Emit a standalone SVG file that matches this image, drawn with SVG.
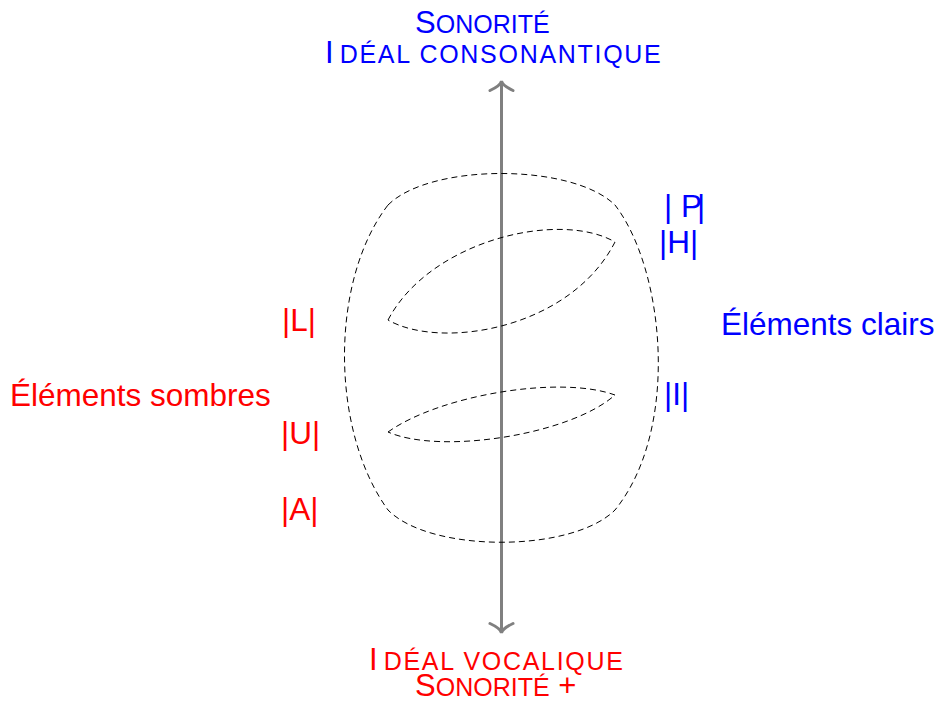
<svg xmlns="http://www.w3.org/2000/svg" width="939" height="702" viewBox="0 0 939 702">
<style>
.t{font-family:"Liberation Sans",Arial,Helvetica,sans-serif;font-size:31.5px}
.cap{font-size:31px}
.sc{font-size:25px;letter-spacing:0}
.scw{font-size:25px;letter-spacing:1.7px}
.blue{fill:#0000ff}
.red{fill:#ff0000}
.dash{fill:none;stroke:#000;stroke-width:1;stroke-dasharray:6 4}
.axis{fill:none;stroke:#808080;stroke-width:3}
</style>
<defs>
<marker id="tip" markerUnits="userSpaceOnUse" markerWidth="30" markerHeight="30" viewBox="-15 -15 30 30" refX="0" refY="0" orient="auto-start-reverse">
<path d="M-9.5,-11.5 C-6,-4 -3,-0.6 0,0 C-3,0.6 -6,4 -9.5,11.5" fill="none" stroke="#808080" stroke-width="3" stroke-linecap="round"/>
</marker>
</defs>
<rect width="939" height="702" fill="#fff"/>
<g id="connectors">
<line class="axis" x1="501.5" y1="633" x2="501.5" y2="81" marker-start="url(#tip)" marker-end="url(#tip)"/>
</g>
<g id="outer-region">
<path class="dash" d="M388,205 C430,163 572,163 615,205 C665,270 680,430 615,510 C572,553 430,553 388,510 C330,430 330,280 388,205 Z"/>
</g>
<g id="upper-lens">
<path class="dash" d="M388,320 C430,240 560,210 615,242 C570,330 440,350 388,320 Z"/>
</g>
<g id="lower-lens">
<path class="dash" d="M388,432 C440,395 560,375 615,395 C570,435 440,455 388,432 Z"/>
</g>
<g id="title-top">
<text class="t blue" x="415" y="33"><tspan class="cap">S</tspan><tspan class="sc">ONORITÉ</tspan></text>
<text class="t blue" x="325" y="63"><tspan class="cap">I</tspan><tspan class="scw" dx="6">DÉAL CONSONANTIQUE</tspan></text>
</g>
<g id="title-bottom">
<text class="t red" x="369" y="670"><tspan class="cap">I</tspan><tspan class="scw" dx="6">DÉAL VOCALIQUE</tspan></text>
<text class="t red" x="415" y="696"><tspan class="cap">S</tspan><tspan class="sc">ONORITÉ</tspan><tspan class="cap"> +</tspan></text>
</g>
<g id="label-P"><text class="t blue" x="664" y="217">| P<tspan dx="-5">|</tspan></text></g>
<g id="label-H"><text class="t blue" x="659" y="253">|H|</text></g>
<g id="label-I"><text class="t blue" x="664" y="405">|I|</text></g>
<g id="label-clairs"><text class="t blue" x="721" y="335">Éléments clairs</text></g>
<g id="label-L"><text class="t red" x="282" y="331">|L|</text></g>
<g id="label-U"><text class="t red" x="281" y="444">|U|</text></g>
<g id="label-A"><text class="t red" x="281" y="520">|A|</text></g>
<g id="label-sombres"><text class="t red" x="10" y="406">Éléments sombres</text></g>
</svg>
